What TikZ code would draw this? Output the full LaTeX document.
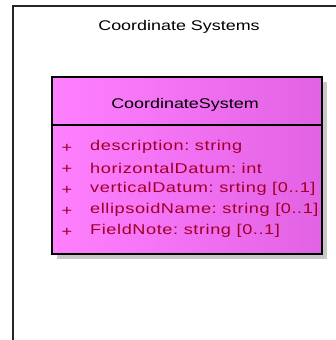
\documentclass[tikz,border=0pt]{standalone}
\usepackage{fontspec}
\setmainfont{Liberation Sans}[FakeStretch=1.28]
\newfontfamily\attrfont{Liberation Sans}[FakeStretch=1.28,LetterSpace=4]
\definecolor{attrred}{RGB}{160,0,40}
\definecolor{boxleft}{RGB}{255,128,255}
\definecolor{boxright}{RGB}{226,98,228}
\definecolor{shadowgray}{RGB}{200,200,200}
\begin{document}
\begin{tikzpicture}[x=1pt,y=-1pt,
  frameline/.style={draw=black!85,line width=1.6pt},
  classbox/.style={draw=black,line width=1.2pt},
  attr/.style={anchor=west,text=attrred,font=\attrfont\fontsize{14.2}{15}\selectfont,inner sep=0pt},
  plus/.style={anchor=center,text=attrred,font=\fontsize{14.2}{15}\selectfont,inner sep=0pt},
  titletext/.style={anchor=center,text=black,font=\fontsize{14}{15}\selectfont,inner sep=0pt}]
\useasboundingbox (0,0) rectangle (336,340);
\fill[white] (0,0) rectangle (336,340);
% package frame
\coordinate (ftr) at (340,6);
\coordinate (ftl) at (13,6);
\coordinate (fbl) at (13,344);
\draw[frameline] (ftr) -- (ftl) -- (fbl);
\node[titletext] (pkg) at (179,27) {Coordinate Systems};
% class shadow
\fill[shadowgray] (57,82) rectangle (327,259);
% class body
\shade[left color=boxleft,right color=boxright] (52,77) rectangle (322,254);
\draw[classbox] (52,77) rectangle (322,254);
\coordinate (dl) at (52,125);
\coordinate (dr) at (322,125);
\draw[classbox] (dl) -- (dr);
\node[titletext] (cls) at (185,105) {CoordinateSystem};
% attributes
\foreach \i/\t in {0/{description:\ string},1/{horizontalDatum:\ int},2/{verticalDatum:\ srting [0..1]},3/{ellipsoidName:\ string [0..1]},4/{FieldNote:\ string [0..1]}}{
  \node[plus] (p\i) at (67,148+21*\i) {+};
  \node[attr] (a\i) at (90,147+21*\i) {\t};
}
\end{tikzpicture}
\end{document}
